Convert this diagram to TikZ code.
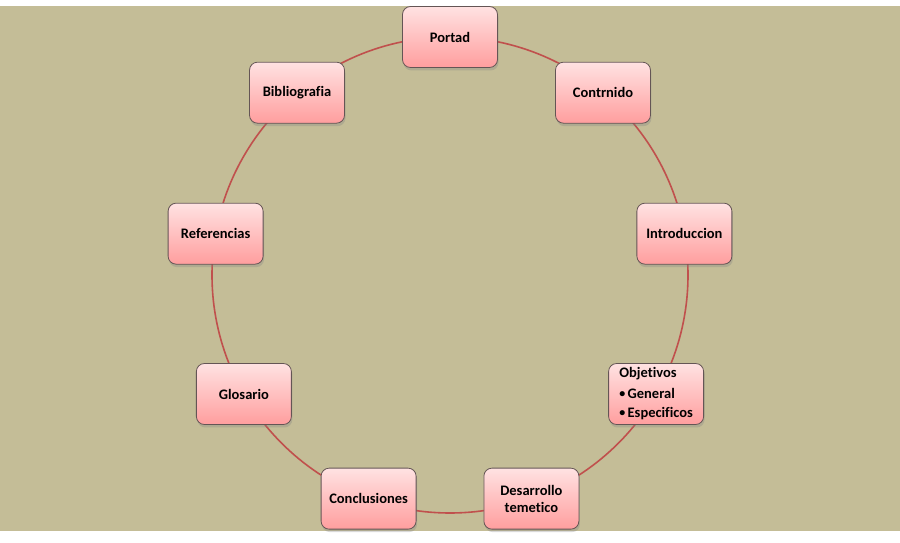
\documentclass[tikz,border=0pt]{standalone}
\usepackage{fontspec}
\setmainfont{Carlito}[Ligatures=NoCommon]
\usetikzlibrary{positioning,shadows}
\definecolor{fondo}{RGB}{196,189,151}
\definecolor{anillo}{RGB}{192,80,77}
\definecolor{rosaclaro}{RGB}{255,226,226}
\definecolor{rosa}{RGB}{255,158,158}
\definecolor{borde}{RGB}{100,85,85}
\newcommand{\vineta}{\raisebox{1.2pt}{\fontsize{12}{17}\selectfont•}\,}

\begin{document}
\begin{tikzpicture}[
    x=1pt, y=1pt,
    caja/.style={rectangle, rounded corners=8pt, draw=borde, line width=0.8pt,
        top color=rosaclaro, bottom color=rosa,
        minimum width=95pt, minimum height=61pt, inner sep=2pt,
        font=\bfseries\fontsize{14.5}{17}\selectfont, align=center,
        drop shadow={shadow xshift=1pt, shadow yshift=-3pt, opacity=0.3}},
    anillo/.style={draw=anillo, line width=1.6pt}
]
    \useasboundingbox (0,0) rectangle (900,543);
    \fill[fondo] (0,12) rectangle (900,537);

    % Ring
    \coordinate (centro) at (450,268);
    \draw[anillo] (centro) circle (238pt);

    % Boxes
    \node[caja] (portad) at ([shift={(90:238pt)}]centro) {Portad};
    \node[caja] (contenido) at ([shift={(50:238pt)}]centro) {Contrnido};
    \node[caja] (intro) at ([shift={(10:238pt)}]centro) {Introduccion};
    \node[caja, align=left] (objetivos) at ([shift={(-30:238pt)}]centro)
        {Objetivos\\[4pt]\vineta General\\[2pt]\vineta Especificos};
    \node[caja] (desarrollo) at ([shift={(-70:238pt)}]centro) {Desarrollo\\temetico};
    \node[caja] (conclusiones) at ([shift={(-110:238pt)}]centro) {Conclusiones};
    \node[caja] (glosario) at ([shift={(-150:238pt)}]centro) {Glosario};
    \node[caja] (referencias) at ([shift={(170:238pt)}]centro) {Referencias};
    \node[caja] (biblio) at ([shift={(130:238pt)}]centro) {Bibliografia};
\end{tikzpicture}
\end{document}
